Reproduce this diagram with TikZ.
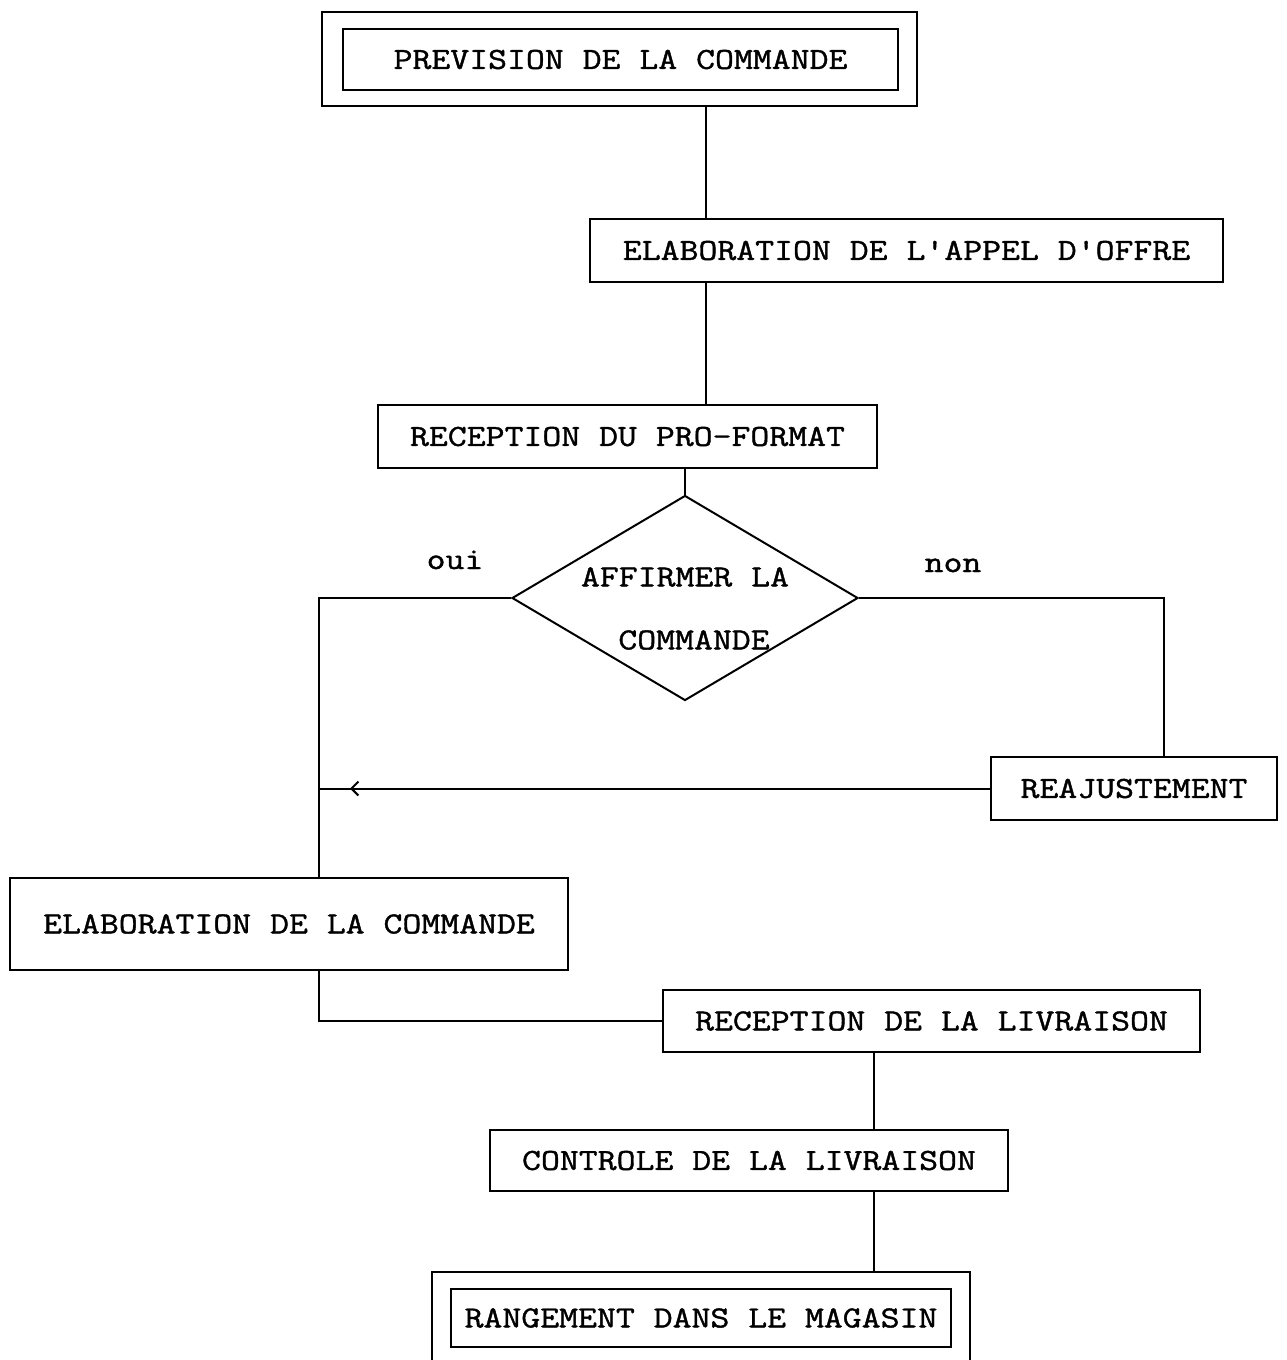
\documentclass[tikz,border=0pt]{standalone}
\usepackage{fontspec}
\newfontfamily\typewriter{Latin Modern Mono}[FakeStretch=1.2,FakeBold=1.3]
\usetikzlibrary{shapes.geometric,arrows.meta,calc,decorations.markings}

\begin{document}
\begin{tikzpicture}[x=0.5pt,y=-0.5pt,line width=1pt,
  box/.style={draw,rectangle,inner sep=0pt,font=\typewriter\fontsize{15.3pt}{18pt}\selectfont},
  frame/.style={draw,rectangle,inner sep=0pt},
  lbl/.style={inner sep=0pt,font=\typewriter\fontsize{15.3pt}{18pt}\selectfont},
  link/.style={line width=1pt},
  backarrow/.style={postaction={decorate},decoration={markings,
      mark=at position -15.5pt with {\arrow{Straight Barb[length=3.5pt,width=7pt]}}}}]
\clip (0,0) rectangle (1286,1360);

% boxes
\node[frame,minimum width=297.5pt,minimum height=47pt] (topframe) at (619.5,59) {};
\node[box,minimum width=277.5pt,minimum height=30.5pt] (prev) at (620.5,59.5) {PREVISION DE LA COMMANDE};
\node[box,minimum width=316.5pt,minimum height=31.5pt] (appel) at (906.5,250.5) {ELABORATION DE L'APPEL D'OFFRE};
\node[box,minimum width=249.5pt,minimum height=31.5pt] (proforma) at (627.5,436.5) {RECEPTION DU PRO-FORMAT};
\node[diamond,draw,inner sep=0pt,minimum width=173pt,minimum height=102.5pt] (choice) at (685,598) {};
\node[lbl] (q1) at (685,577) {AFFIRMER LA};
\node[lbl] (q2) at (694,640) {COMMANDE};
\node[lbl,anchor=base] (yes) at (455,569) {oui};
\node[lbl,anchor=base] (no) at (953,572) {non};
\node[box,minimum width=143pt,minimum height=31.5pt] (readjust) at (1134,788.5) {REAJUSTEMENT};
\node[box,minimum width=279pt,minimum height=46pt] (order) at (289,924) {ELABORATION DE LA COMMANDE};
\node[box,minimum width=268.5pt,minimum height=31pt] (delivery) at (931.5,1021) {RECEPTION DE LA LIVRAISON};
\node[box,minimum width=259pt,minimum height=30.5pt] (check) at (749,1160.5) {CONTROLE DE LA LIVRAISON};
\node[frame,minimum width=269pt,minimum height=49pt] (bottomframe) at (701,1321) {};
\node[box,minimum width=250pt,minimum height=29pt] (store) at (701,1318) {RANGEMENT DANS LE MAGASIN};

% junction points on the box edges
\coordinate (j1) at ($(topframe.south)+(86.5,0)$);
\coordinate (j2) at ($(appel.south)+(-200.5,0)$);
\coordinate (rail) at ($(order.north)+(30,0)$);
\coordinate (j4) at ($(readjust.north)+(30,0)$);
\coordinate (j5) at ($(order.south)+(30,0)$);
\coordinate (j6) at ($(delivery.south)+(-57.5,0)$);
\coordinate (j7) at ($(check.south)+(125,0)$);

% connectors
\draw[link] (j1) -- (j1 |- appel.north);
\draw[link] (j2) -- (j2 |- proforma.north);
\draw[link] (proforma.south -| choice.north) -- (choice.north);
\draw[link] (choice.west) -| (rail);
\draw[link] (choice.east) -| (j4);
\draw[link,backarrow] (readjust.west) -- (readjust.west -| rail);
\draw[link] (j5) |- (delivery.west);
\draw[link] (j6) -- (j6 |- check.north);
\draw[link] (j7) -- (j7 |- bottomframe.north);
\end{tikzpicture}
\end{document}
